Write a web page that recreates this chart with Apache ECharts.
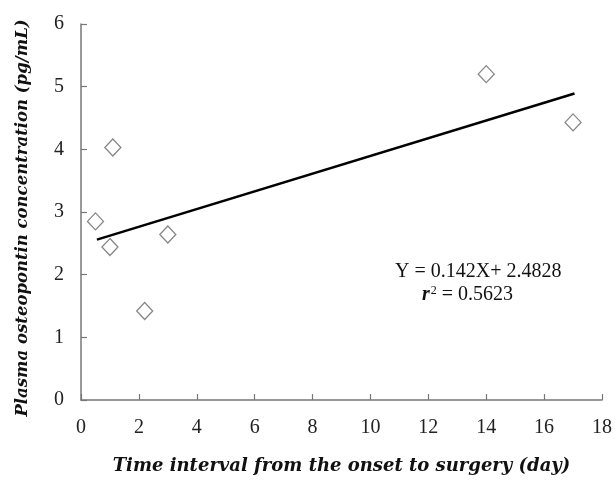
<!DOCTYPE html>
<html><head><meta charset="utf-8">
<script src="https://cdn.jsdelivr.net/npm/echarts@6/dist/echarts.min.js"></script>
<style>html,body{margin:0;padding:0;background:#fff}#c{width:615px;height:480px}</style>
</head><body><div id="c"></div>
<script>
const daysX = [0.5, 1.0, 1.1, 2.2, 3.0, 14.0, 17.0];
const opnY = [2.85, 2.44, 4.03, 1.42, 2.64, 5.2, 4.43];
const trendX = [0.55, 17.05];
const trendY = [2.56, 4.89];
const xTicks = [0, 2, 4, 6, 8, 10, 12, 14, 16, 18];
const yTicks = [0, 1, 2, 3, 4, 5, 6];

const serif = '"Liberation Serif", "DejaVu Serif", serif';
const wideSerif = '"DejaVu Serif", serif';
const chart = echarts.init(document.getElementById('c'), null, {renderer: 'canvas'});
chart.setOption({
  animation: false,
  backgroundColor: '#fff',
  grid: {left: 81, right: 13, top: 24, bottom: 74},
  xAxis: {
    type: 'value', min: xTicks[0], max: xTicks[xTicks.length-1], interval: 2,
    name: 'Time interval from the onset to surgery (day)',
    nameLocation: 'middle', nameGap: 57,
    nameTextStyle: {fontFamily: wideSerif, fontStyle: 'italic', fontWeight: 'bold', fontSize: 18, color: '#111'},
    axisLine: {lineStyle: {color: '#777', width: 1.5}},
    axisTick: {inside: true, length: 6, lineStyle: {color: '#777', width: 1.2}},
    axisLabel: {fontFamily: serif, fontSize: 20, color: '#222', margin: 18},
    splitLine: {show: false}
  },
  yAxis: {
    type: 'value', min: yTicks[0], max: yTicks[yTicks.length-1], interval: 1,
    name: 'Plasma osteopontin concentration (pg/mL)',
    nameLocation: 'middle', nameGap: 50, nameRotate: 90,
    nameTextStyle: {fontFamily: wideSerif, fontStyle: 'italic', fontWeight: 'bold', fontSize: 16.5, color: '#111', padding: [0, 12, 0, 0]},
    axisLine: {lineStyle: {color: '#777', width: 1.5}},
    axisTick: {inside: true, length: 6, lineStyle: {color: '#777', width: 1.2}},
    axisLabel: {fontFamily: serif, fontSize: 20, color: '#222', margin: 17},
    splitLine: {show: false}
  },
  series: [
    {
      type: 'line', data: trendX.map((x, i) => [x, trendY[i]]),
      showSymbol: false, symbol: 'none',
      lineStyle: {color: '#000', width: 2.5}, z: 2
    },
    {
      type: 'scatter', data: daysX.map((x, i) => [x, opnY[i]]),
      symbol: 'diamond', symbolSize: [16, 17],
      itemStyle: {color: '#fff', borderColor: '#666', borderWidth: 1.3}, z: 3
    }
  ],
  graphic: [
    {type: 'text', left: 395, top: 262, style: {text: 'Y = 0.142X+ 2.4828', font: '20px ' + serif, fill: '#111'}},
    {type: 'text', left: 422, top: 285, style: {
      text: '{i|r}{s|2}{n| = 0.5623}',
      rich: {
        i: {fontFamily: serif, fontStyle: 'italic', fontWeight: 'bold', fontSize: 20, fill: '#111'},
        s: {fontFamily: serif, fontSize: 12, verticalAlign: 'top', fill: '#111', padding: [0, 0, 8, 1]},
        n: {fontFamily: serif, fontSize: 20, fill: '#111'}
      }}}
  ]
});
</script></body></html>
